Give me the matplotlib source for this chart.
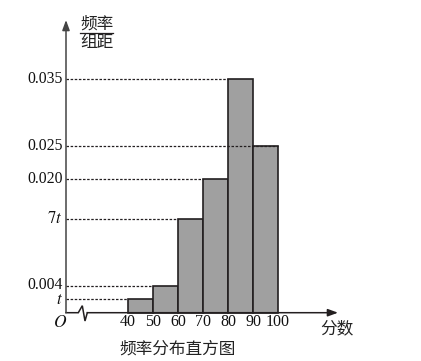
import matplotlib
matplotlib.use("Agg")
import matplotlib.pyplot as plt

plt.rcParams['mathtext.fontset'] = 'stix'

# data
t = 0.002
edges = [40, 50, 60, 70, 80, 90, 100]
heights = [t, 0.004, 7 * t, 0.020, 0.035, 0.025]
ytick_vals = [t, 0.004, 7 * t, 0.020, 0.025, 0.035]
ytick_labels = ['$t$', '0.004', '$7t$', '0.020', '0.025', '0.035']
xtick_labels = ['40', '50', '60', '70', '80', '90', '100']

fig = plt.figure(figsize=(4.21, 3.61), dpi=100)
ax = fig.add_axes([0, 0, 1, 1])
# pixel mapping: x 2.5 px per unit (40 -> px 128), y 6677 px per unit (0 -> px 312.7)
XS, YS = 2.5, 6677.0
ax.set_xlim(40 - 128 / XS, 40 + 293 / XS)
ax.set_ylim(-(361 - 312.7) / YS, 312.7 / YS)
ax.axis('off')

def px(p):
    return 40 + (p - 128) / XS

def py(p):
    return (312.7 - p) / YS

x0 = px(66)  # y-axis position
dark = '#231f20'
serif = ['Liberation Serif', 'DejaVu Serif']
cjk = ['Noto Sans CJK SC', 'DejaVu Sans']

# bars
for i, h in enumerate(heights):
    ax.bar(edges[i], h, width=edges[i + 1] - edges[i], align='edge',
           facecolor='#a0a0a0', edgecolor=dark, linewidth=1.2, zorder=2)

# dashed guide lines
for i, h in enumerate(heights):
    xe = edges[i]
    if h == 0.025:
        xe = edges[i + 1]
    ax.plot([x0, xe], [h, h], color=dark, lw=0.9, ls=(0, (2, 1.3)), zorder=3)

# y tick labels
for v, lab in zip(ytick_vals, ytick_labels):
    fs = 12 if lab.startswith('$') else 11.3
    yy = v
    if lab == '$t$':
        yy = py(300.5)
    elif lab == '0.004':
        yy = py(285)
    ax.text(px(62.5), yy, lab, ha='right', va='center', fontsize=fs,
            family=serif, color='#111')

# x tick labels
for e, lab in zip(edges, xtick_labels):
    ax.text(e, py(322), lab, ha='center', va='center', fontsize=11.5,
            family=serif, color='#111')
ax.text(px(60), py(322), '$O$', ha='center', va='center', fontsize=12.5, color='#111')

# axes with break
bx = [x0, px(78.3), px(82.3), px(85), px(87.3)]
by = [0, 0, py(305.7), py(321), 0]
ax.plot(bx, by, color=dark, lw=1.1, zorder=4, solid_joinstyle='miter')
ax.annotate('', xy=(px(338), 0), xytext=(bx[-1], 0),
            arrowprops=dict(arrowstyle='-|>,head_length=0.6,head_width=0.22',
                            color=dark, lw=1.1, shrinkA=0, shrinkB=0), zorder=4)
ax.annotate('', xy=(x0, py(20)), xytext=(x0, 0),
            arrowprops=dict(arrowstyle='-|>,head_length=0.6,head_width=0.22',
                            color='#444', lw=1.1, shrinkA=0, shrinkB=0), zorder=4)

# y label as fraction
yl_x = px(96.5)
ax.text(yl_x, py(24), '频率', ha='center', va='center', fontsize=12,
        family=cjk, color='#222')
ax.plot([px(80), px(113)], [py(33)] * 2, color=dark, lw=0.9)
ax.text(yl_x, py(43), '组距', ha='center', va='center', fontsize=12,
        family=cjk, color='#222')

# x label and title
ax.text(px(337), py(329), '分数', ha='center', va='center',
        fontsize=12, family=cjk, color='#222')
ax.text(px(178), py(349.5), '频率分布直方图', ha='center',
        va='center', fontsize=12, family=cjk, color='#222')

fig.savefig('out.png', dpi=100)
